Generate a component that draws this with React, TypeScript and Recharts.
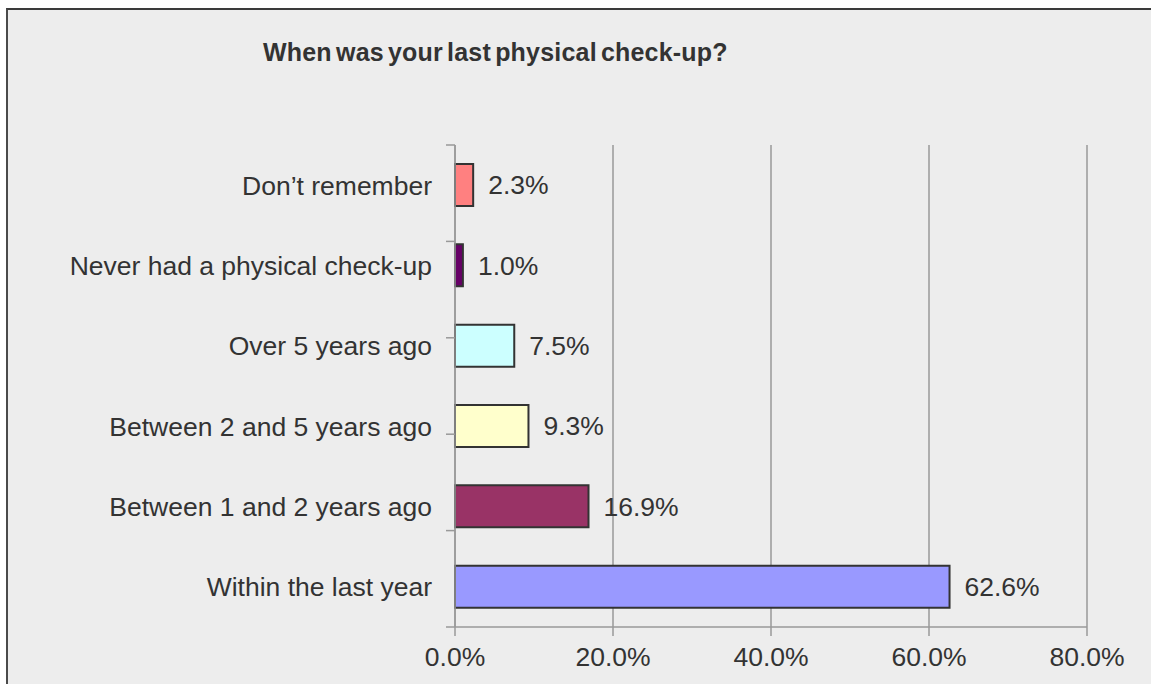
import React from "react";
import {
  Bar,
  BarChart,
  CartesianGrid,
  Cell,
  LabelList,
  XAxis,
  YAxis,
} from "recharts";

// answers, top to bottom as drawn
const answers = [
  "Don’t remember",
  "Never had a physical check-up",
  "Over 5 years ago",
  "Between 2 and 5 years ago",
  "Between 1 and 2 years ago",
  "Within the last year",
];

// percent of respondents
const shares = [2.3, 1.0, 7.5, 9.3, 16.9, 62.6];

const xTicks = [0, 20, 40, 60, 80];
const bandTicks = [0, 1, 2, 3, 4, 5, 6];

const barColors = ["#FF8080", "#660066", "#CCFFFF", "#FFFFCC", "#993366", "#9999FF"];

const font = "'Liberation Sans', Arial, sans-serif";
const textColor = "#333333";
const lineColor = "#999999";
const fontSize = 26.5;

const data = answers.map((answer, i) => ({ answer, share: shares[i] }));

const App: React.FC = () => {
  return (
    <div
      style={{
        position: "absolute",
        left: 0,
        top: 0,
        width: 1151,
        height: 684,
        background: "#ffffff",
        overflow: "hidden",
        fontFamily: font,
      }}
    >
      <div
        style={{
          position: "absolute",
          left: 6,
          top: 8,
          width: 1150,
          height: 690,
          background: "#EDEDED",
          borderTop: "2px solid #3a3a3a",
          borderLeft: "2px solid #4a4a4a",
          boxSizing: "border-box",
        }}
      />
      <div
        style={{
          position: "absolute",
          left: 263,
          top: 38,
          fontSize: 25,
          fontWeight: "bold",
          letterSpacing: 0.2,
          wordSpacing: -3,
          color: textColor,
          whiteSpace: "nowrap",
        }}
      >
        When was your last physical check-up?
      </div>
      <div style={{ position: "absolute", left: 0, top: 0 }}>
        <BarChart
          width={1151}
          height={684}
          data={data}
          layout="vertical"
          margin={{ top: 145, right: 64, left: 0, bottom: 0 }}
        >
          <CartesianGrid
            horizontal={false}
            stroke={lineColor}
            strokeWidth={1.5}
            yAxisId="cat"
          />
          <YAxis
            yAxisId="bands"
            type="number"
            domain={[0, 6]}
            ticks={bandTicks}
            tick={() => <g />}
            width={20}
            tickSize={9}
            interval={0}
            axisLine={{ stroke: lineColor, strokeWidth: 1.5 }}
            tickLine={{ stroke: lineColor, strokeWidth: 1.5 }}
          />
          <YAxis
            yAxisId="cat"
            type="category"
            dataKey="answer"
            width={435}
            axisLine={false}
            tickLine={false}
            tickSize={0}
            tickMargin={3}
            interval={0}
            tick={{ fill: textColor, fontSize, fontFamily: font }}
          />
          <XAxis
            type="number"
            domain={[0, 80]}
            ticks={xTicks}
            height={57}
            tickSize={9}
            tickMargin={11}
            tickFormatter={(v: number) => `${v.toFixed(1)}%`}
            axisLine={{ stroke: lineColor, strokeWidth: 1.5 }}
            tickLine={{ stroke: lineColor, strokeWidth: 1.5 }}
            tick={{ fill: textColor, fontSize, fontFamily: font }}
          />
          <Bar
            dataKey="share"
            yAxisId="cat"
            barSize={42}
            stroke="#333333"
            strokeWidth={2}
            isAnimationActive={false}
          >
            {data.map((entry, i) => (
              <Cell key={entry.answer} fill={barColors[i]} />
            ))}
            <LabelList
              dataKey="share"
              position="right"
              offset={15}
              formatter={(v: number) => `${v.toFixed(1)}%`}
              style={{ fill: textColor, fontSize, fontFamily: font }}
            />
          </Bar>
        </BarChart>
      </div>
    </div>
  );
};

export default App;
